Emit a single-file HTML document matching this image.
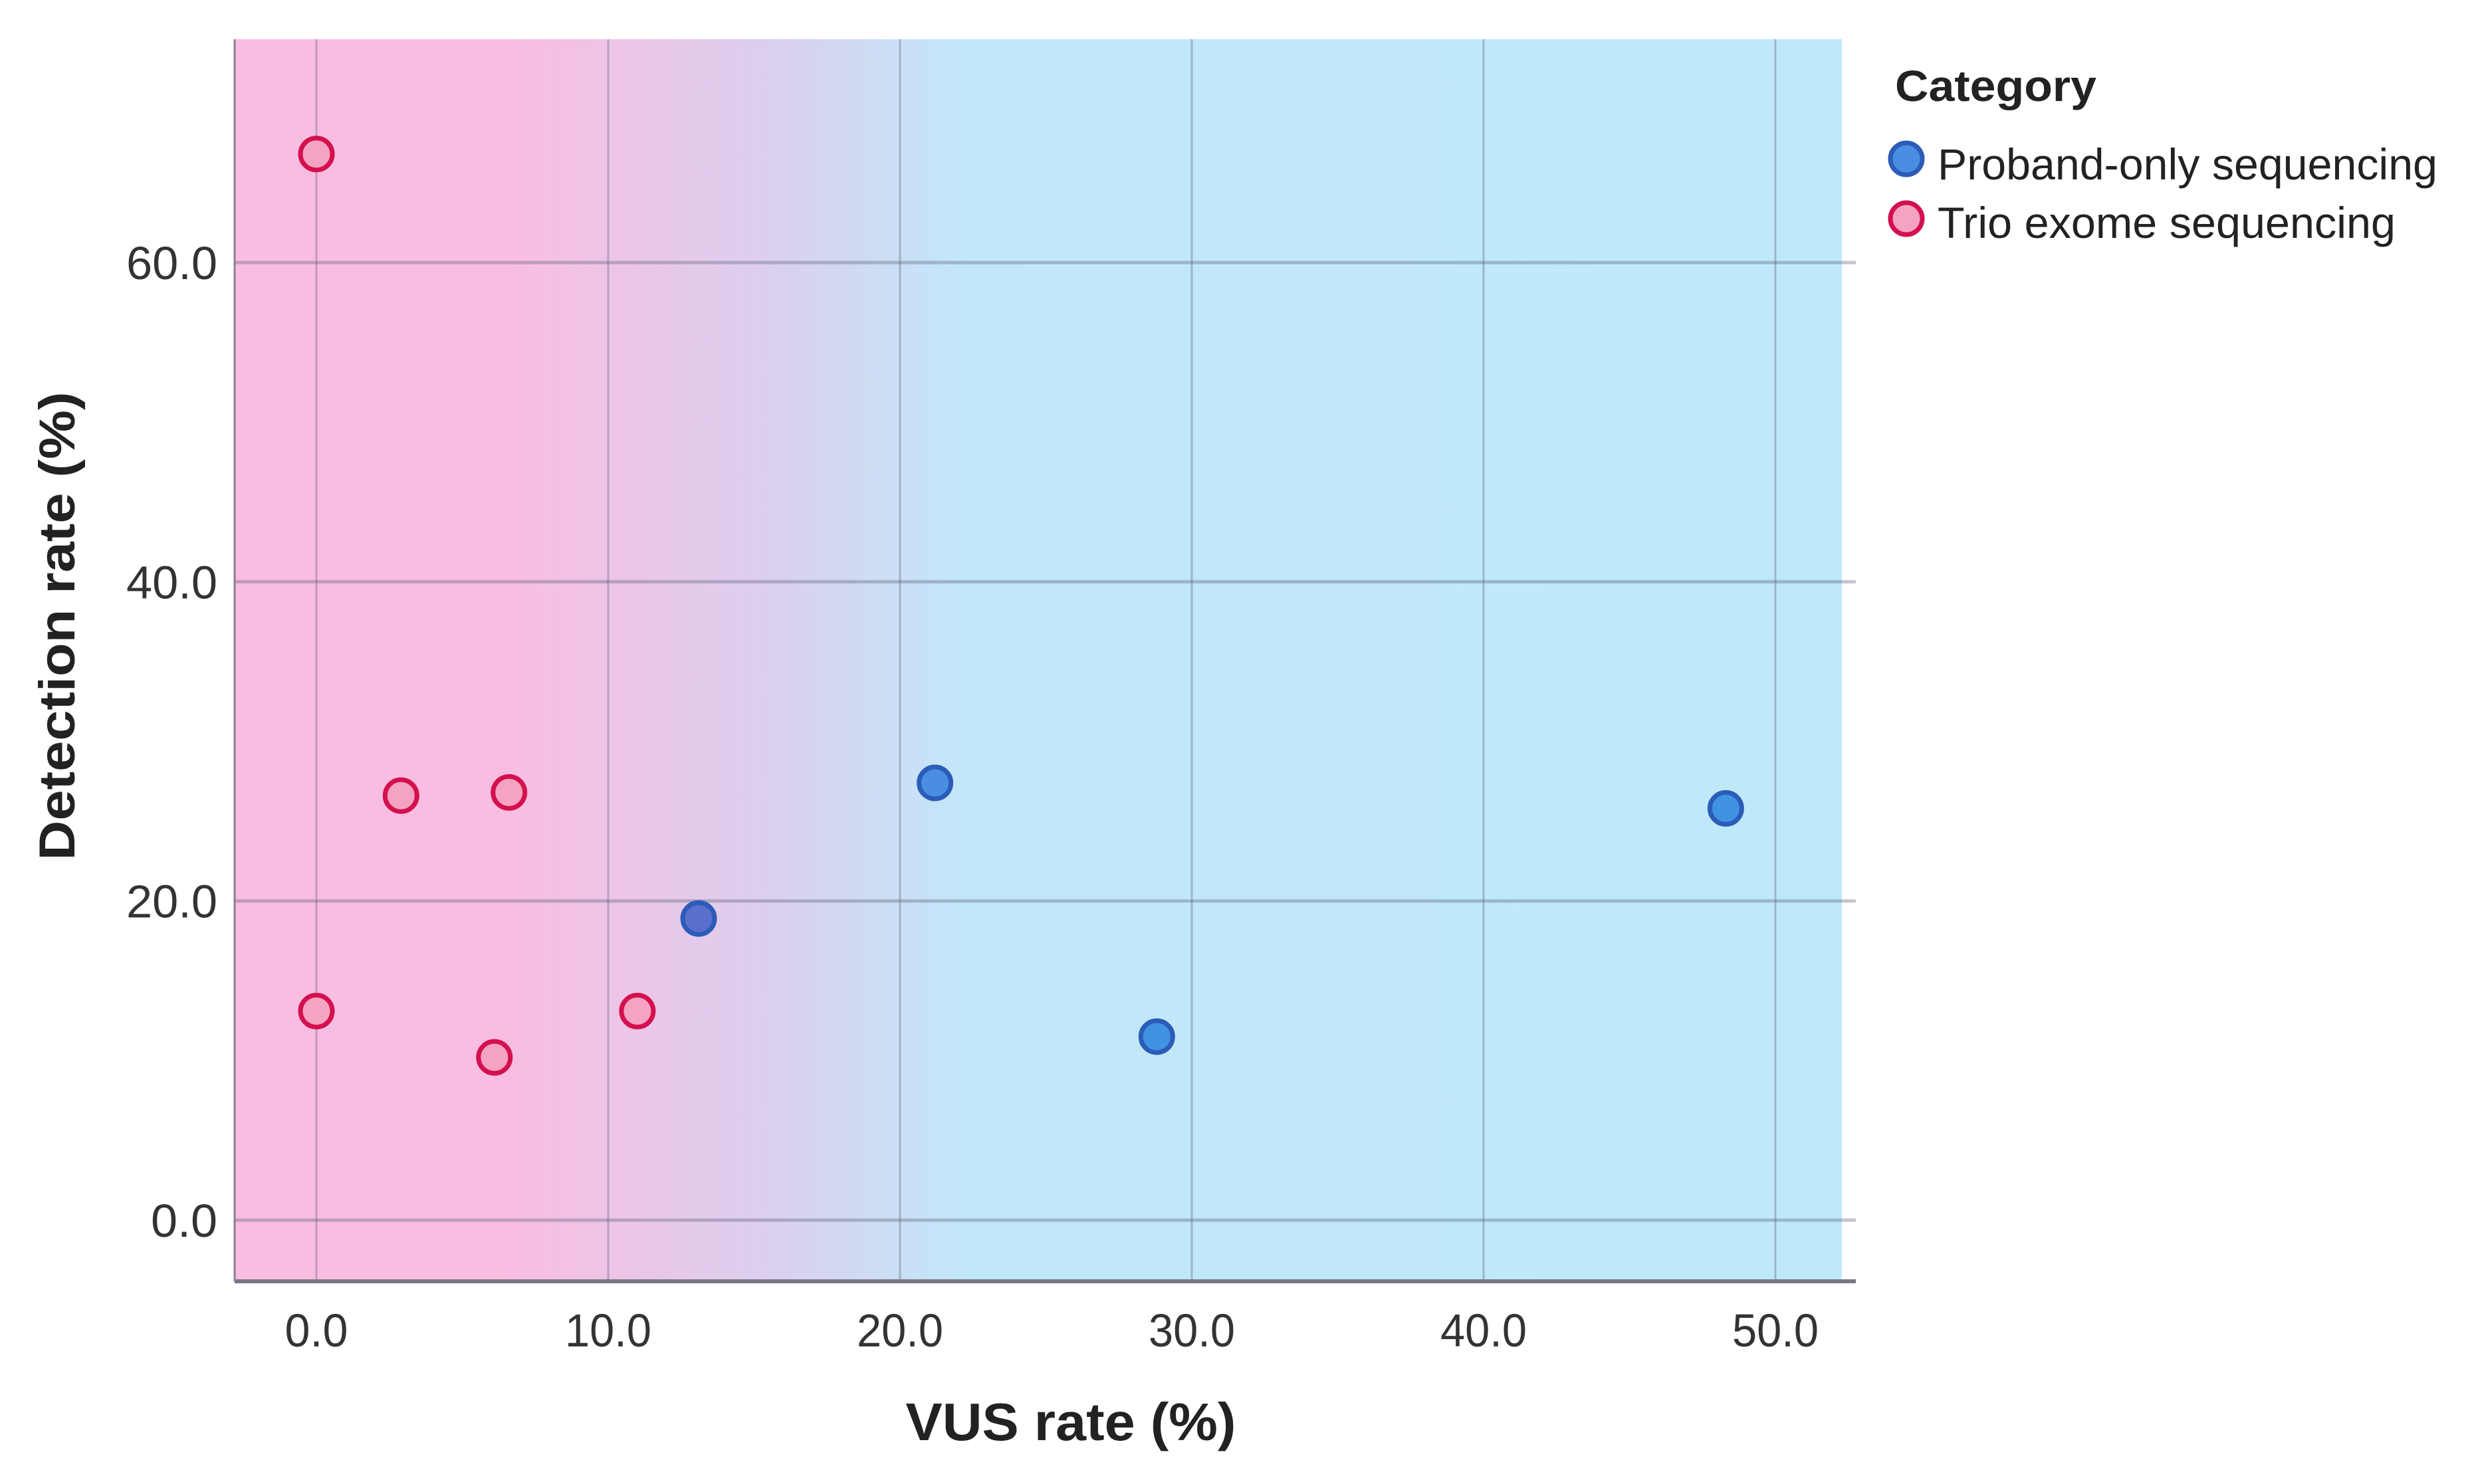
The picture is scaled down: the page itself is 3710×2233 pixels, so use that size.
<!DOCTYPE html>
<html><head><meta charset="utf-8"><style>
html,body{margin:0;padding:0;background:#fff;}
svg{display:block;font-family:"Liberation Sans",sans-serif;}
</style></head><body>
<svg id="chart" width="3710" height="2233" viewBox="0 0 3710 2233" xmlns="http://www.w3.org/2000/svg">
<defs>
<linearGradient id="bg" x1="353" x2="2771" y1="0" y2="0" gradientUnits="userSpaceOnUse">
<stop offset="0" stop-color="#f9bde2"/>
<stop offset="0.17" stop-color="#f9bde2"/>
<stop offset="0.33" stop-color="#dccfee"/>
<stop offset="0.46" stop-color="#c0e8f9"/>
<stop offset="1" stop-color="#bfe9f9"/>
</linearGradient>
</defs>
<rect x="353" y="59" width="2418" height="1869" fill="url(#bg)"/>
<g id="grid"></g>
<g id="ticks"></g>
<g id="points"></g>
<line x1="353" y1="1928" x2="2792" y2="1928" stroke="#7a7582" stroke-width="6"/>
<line x1="353" y1="59" x2="353" y2="1928" stroke="#8a7f90" stroke-width="3"/>
<text x="1611" y="2167" font-size="80" font-weight="bold" text-anchor="middle" textLength="497" lengthAdjust="spacingAndGlyphs" fill="#222">VUS rate (%)</text>
<text transform="translate(112,942) rotate(-90)" font-size="76" font-weight="bold" text-anchor="middle" textLength="705" lengthAdjust="spacingAndGlyphs" fill="#222">Detection rate (%)</text>
<g>
<text x="2851" y="152" font-size="66" font-weight="bold" textLength="303" lengthAdjust="spacingAndGlyphs" fill="#222">Category</text>
<circle cx="2868" cy="239" r="24" fill="#4a8ee2" stroke="#2c5cb8" stroke-width="7"/>
<text x="2915" y="270" font-size="66" textLength="752" lengthAdjust="spacingAndGlyphs" fill="#222">Proband-only sequencing</text>
<circle cx="2868" cy="329" r="24" fill="#f5a3c3" stroke="#d4104e" stroke-width="7"/>
<text x="2915" y="358" font-size="66" textLength="689" lengthAdjust="spacingAndGlyphs" fill="#222">Trio exome sequencing</text>
</g>
</svg>
<script>
const xTicks=[0,10,20,30,40,50];
const xTickLabels=["0.0","10.0","20.0","30.0","40.0","50.0"];
const yTicks=[0,20,40,60];
const yTickLabels=["0.0","20.0","40.0","60.0"];
const trioX=[0,2.9,6.6,0,6.1,11.0];
const trioY=[66.8,26.6,26.8,13.1,10.2,13.1];
const probandX=[13.1,21.2,28.8,48.3];
const probandY=[18.9,27.4,11.5,25.8];
const probandFill=["#5b6fcc","#4a8ee2","#3f93e2","#3f93e2"];
const NS="http://www.w3.org/2000/svg";
function sx(v){return 476+v*43.9;}
function sy(v){return 1836-v*24.015;}
const grid=document.getElementById('grid');
const ticks=document.getElementById('ticks');
function mk(tag,attrs,parent){const e=document.createElementNS(NS,tag);for(const k in attrs)e.setAttribute(k,attrs[k]);parent.appendChild(e);return e;}
xTicks.forEach((v,i)=>{
  const l=mk('line',{x1:sx(v),x2:sx(v),y1:59,y2:1928,stroke:'rgba(90,95,120,0.36)','stroke-width':3},grid);
  
  
  const t=mk('text',{x:sx(v),y:2026,'font-size':70,'text-anchor':'middle',fill:'#333',textLength:xTickLabels[i].length>3?130:95,lengthAdjust:'spacingAndGlyphs'},ticks);
  t.textContent=xTickLabels[i];
  
  
});
yTicks.forEach((v,i)=>{
  const l=mk('line',{x1:353,x2:2792,y1:sy(v),y2:sy(v),stroke:'rgba(90,95,120,0.36)','stroke-width':5},grid);
  
  
  const t=mk('text',{x:327,y:sy(v)+25,'font-size':70,'text-anchor':'end',fill:'#333',textLength:yTickLabels[i].length>3?137:100,lengthAdjust:'spacingAndGlyphs'},ticks);
  t.textContent=yTickLabels[i];
  
  
});
const pts=document.getElementById('points');
trioX.forEach((x,i)=>{
  const c=mk('circle',{cx:sx(x),cy:sy(trioY[i]),r:24,fill:'#f5a3c3',stroke:'#d4104e','stroke-width':7},pts);
  
  
});
probandX.forEach((x,i)=>{
  const c=mk('circle',{cx:sx(x),cy:sy(probandY[i]),r:24,fill:probandFill[i],stroke:'#2c5cb8','stroke-width':7},pts);
  
  
});
</script>
</body></html>
